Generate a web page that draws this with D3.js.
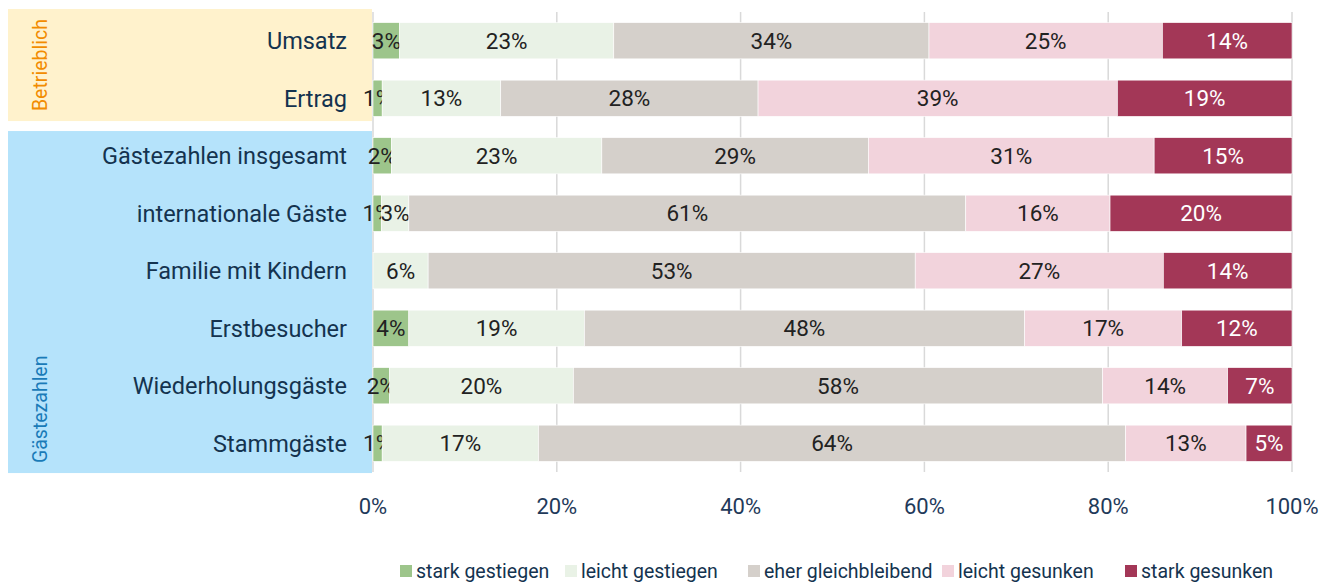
<!DOCTYPE html>
<html>
<head>
<meta charset="utf-8">
<script src="https://cdn.jsdelivr.net/npm/d3@7"></script>
<style>
  html, body { margin: 0; padding: 0; background: #fff; }
  svg { display: block; font-family: Roboto, "Noto Sans", sans-serif; }
</style>
</head>
<body>
<svg id="chart" width="1324" height="582"></svg>
<script>
  // ---- data ----
  const categories = ["Umsatz", "Ertrag", "Gästezahlen insgesamt", "internationale Gäste",
    "Familie mit Kindern", "Erstbesucher", "Wiederholungsgäste", "Stammgäste"];
  const seriesNames = ["stark gestiegen", "leicht gestiegen", "eher gleichbleibend", "leicht gesunken", "stark gesunken"];
  const seriesColors = ["#9dc58b", "#e9f2e6", "#d5d0cb", "#f2d3dc", "#a33757"];
  const labelColors = ["#222", "#222", "#222", "#222", "#fff"];

  const starkGestiegen   = [2.9, 1.0, 2.0, 0.9, 0.0, 3.9, 1.8, 1.0];
  const leichtGestiegen  = [23.3, 12.9, 22.9, 3.0, 6.0, 19.1, 20.0, 17.0];
  const gleichbleibend   = [34.3, 28.0, 29.0, 60.6, 53.0, 47.9, 57.6, 63.9];
  const leichtGesunken   = [25.4, 39.1, 31.1, 15.7, 27.0, 17.1, 13.6, 13.1];
  const starkGesunken    = [14.1, 19.0, 15.0, 19.8, 14.0, 12.0, 7.0, 5.0];

  const groups = [
    { name: "Betrieblich", from: "Umsatz", to: "Ertrag", fill: "#fff2cc", color: "#f28c00", padTop: 13.6, padBottom: 4.7 },
    { name: "Gästezahlen", from: "Gästezahlen insgesamt", to: "Stammgäste", fill: "#b5e3fb", color: "#1a7bb8", padTop: 6.6, padBottom: 11.7 }
  ];
  const xTicks = [0, 20, 40, 60, 80, 100];

  // ---- layout ----
  const svg = d3.select("#chart");
  const plot = { left: 373, right: 1292, top: 12, bottom: 472 };

  const x = d3.scaleLinear().domain([0, 100]).range([plot.left, plot.right]);
  const y = d3.scaleBand().domain(categories).range([plot.top, plot.bottom]).paddingInner(0.37).paddingOuter(0.185);

  const rows = categories.map((c, i) => ({
    cat: c,
    vals: [starkGestiegen[i], leichtGestiegen[i], gleichbleibend[i], leichtGesunken[i], starkGesunken[i]]
  }));

  // group boxes
  groups.forEach(g => {
    const y0 = y(g.from) - g.padTop;
    const y1 = y(g.to) + y.bandwidth() + g.padBottom;
    svg.append("rect")
      .attr("x", 8).attr("y", y0).attr("width", 364).attr("height", y1 - y0)
      .attr("fill", g.fill);
    svg.append("text")
      .attr("transform", `translate(47,${y1 - 10}) rotate(-90)`)
      .attr("fill", g.color).attr("font-size", 19.5)
      .text(g.name);
  });

  // gridlines
  svg.append("g").selectAll("line").data(xTicks).join("line")
    .attr("x1", d => x(d)).attr("x2", d => x(d))
    .attr("y1", plot.top).attr("y2", plot.bottom)
    .attr("stroke", "#d9d9d9").attr("stroke-width", 1.5);

  // bars
  const rowG = svg.append("g").selectAll("g").data(rows).join("g")
    .attr("transform", d => `translate(0,${y(d.cat)})`);

  rowG.each(function (d) {
    const g = d3.select(this);
    let acc = 0;
    d.vals.forEach((v, k) => {
      const x0 = x(acc), x1 = x(acc + v);
      acc += v;
      if (v <= 0) return;
      g.append("rect")
        .attr("x", x0).attr("y", 0)
        .attr("width", x1 - x0).attr("height", y.bandwidth())
        .attr("fill", seriesColors[k])
        .attr("stroke", "#fff").attr("stroke-width", 0.6);
      g.append("text")
        .attr("x", (x0 + x1) / 2).attr("y", y.bandwidth() / 2)
        .attr("dy", "0.36em")
        .attr("text-anchor", "middle")
        .attr("font-size", 22.5)
        .attr("fill", labelColors[k])
        .text(Math.round(v) + "%");
    });
  });

  // category labels
  svg.append("g").selectAll("text").data(categories).join("text")
    .attr("x", 347).attr("y", d => y(d) + y.bandwidth() / 2)
    .attr("dy", "0.36em")
    .attr("text-anchor", "end")
    .attr("font-size", 23.5)
    .attr("fill", "#14334f")
    .text(d => d);

  // x axis labels
  svg.append("g").selectAll("text").data(xTicks).join("text")
    .attr("x", d => x(d)).attr("y", 506)
    .attr("dy", "0.36em")
    .attr("text-anchor", "middle")
    .attr("font-size", 22)
    .attr("fill", "#1f3a5a")
    .text(d => d + "%");

  // legend
  const legendX = [400, 565, 748, 942, 1125];
  const leg = svg.append("g").selectAll("g").data(seriesNames).join("g")
    .attr("transform", (d, i) => `translate(${legendX[i]},571)`);
  leg.append("rect")
    .attr("x", 0).attr("y", -6).attr("width", 12).attr("height", 12)
    .attr("fill", (d, i) => seriesColors[i]);
  leg.append("text")
    .attr("x", 16).attr("dy", "0.36em")
    .attr("font-size", 19.5)
    .attr("fill", "#14334f")
    .text(d => d);
</script>
</body>
</html>
